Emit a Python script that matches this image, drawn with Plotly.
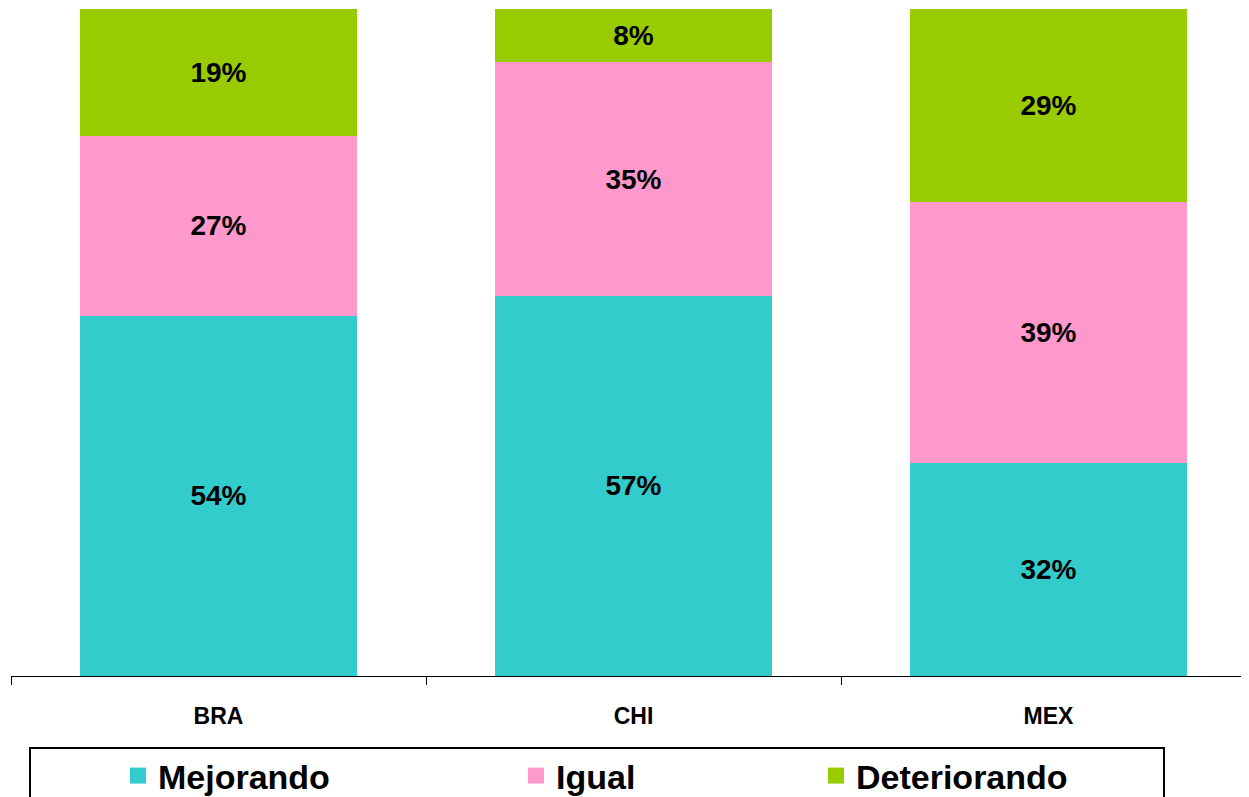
import plotly.graph_objects as go

countries = ["BRA", "CHI", "MEX"]
series_names = ["Mejorando", "Igual", "Deteriorando"]
mejorando = [54, 57, 32]
igual = [27, 35, 39]
deteriorando = [19, 8, 29]
colors = ["#33CCCC", "#FF99CC", "#99CC00"]

OFF = 8  # page body margin
W, H = 1249 - OFF, 797 - OFF
L, T = 11 - OFF, 9 - OFF
BOTTOM_PAGE = 676
B = 797 - BOTTOM_PAGE
plot_w = W - L
plot_h = H - T - B

def px_x(p):  # page pixel -> paper
    return (p - OFF - L) / plot_w

def px_y(p):  # page pixel -> paper
    return (BOTTOM_PAGE - p) / plot_h

fig = go.Figure()
values = [mejorando, igual, deteriorando]
for name, vals, col in zip(series_names, values, colors):
    fig.add_trace(go.Bar(
        x=countries, y=vals, name=name, marker_color=col, marker_line_width=0,
        width=0.667, showlegend=False,
        text=[f"{v}%" for v in vals], textposition="inside",
        insidetextanchor="middle", textangle=0, constraintext="none",
        textfont=dict(family="Liberation Sans", size=28, color="black", weight="bold"),
    ))

legend_keys = ["legend", "legend2", "legend3"]
legend_px = [118, 516, 816]
for name, col, key in zip(series_names, colors, legend_keys):
    fig.add_trace(go.Scatter(
        x=[None], y=[None], mode="markers", name=name, legend=key,
        marker=dict(symbol="square", size=22, color=col),
    ))

legend_common = dict(
    orientation="h", xanchor="left", yanchor="middle", y=px_y(776),
    bgcolor="rgba(0,0,0,0)", borderwidth=0,
    font=dict(family="Liberation Sans", size=34, color="black", weight="bold"),
)
layout_legends = {}
for key, lx in zip(legend_keys, legend_px):
    layout_legends[key] = dict(legend_common, x=px_x(lx))

fig.update_layout(
    barmode="stack",
    width=W, height=H,
    margin=dict(l=L, r=0, t=T, b=B, pad=0, autoexpand=False),
    paper_bgcolor="white", plot_bgcolor="white",
    showlegend=True,
    xaxis=dict(
        range=[-0.5, 2.5 - 7 / 415], showgrid=False, zeroline=False,
        showline=True, linecolor="black", linewidth=1,
        ticks="outside", tickson="boundaries", ticklen=8, tickcolor="black",
        ticklabelstandoff=19,
        tickfont=dict(family="Liberation Sans", size=23, color="black", weight="bold"),
        fixedrange=True,
    ),
    yaxis=dict(range=[0, 100], showgrid=False, zeroline=False, showline=False,
               showticklabels=False, ticks="", fixedrange=True),
    shapes=[dict(type="rect", xref="paper", yref="paper",
                 x0=px_x(30), x1=px_x(1164), y0=px_y(748), y1=px_y(860),
                 line=dict(color="black", width=2), fillcolor="rgba(0,0,0,0)")],
    **layout_legends,
)

fig.write_html("out.html")
